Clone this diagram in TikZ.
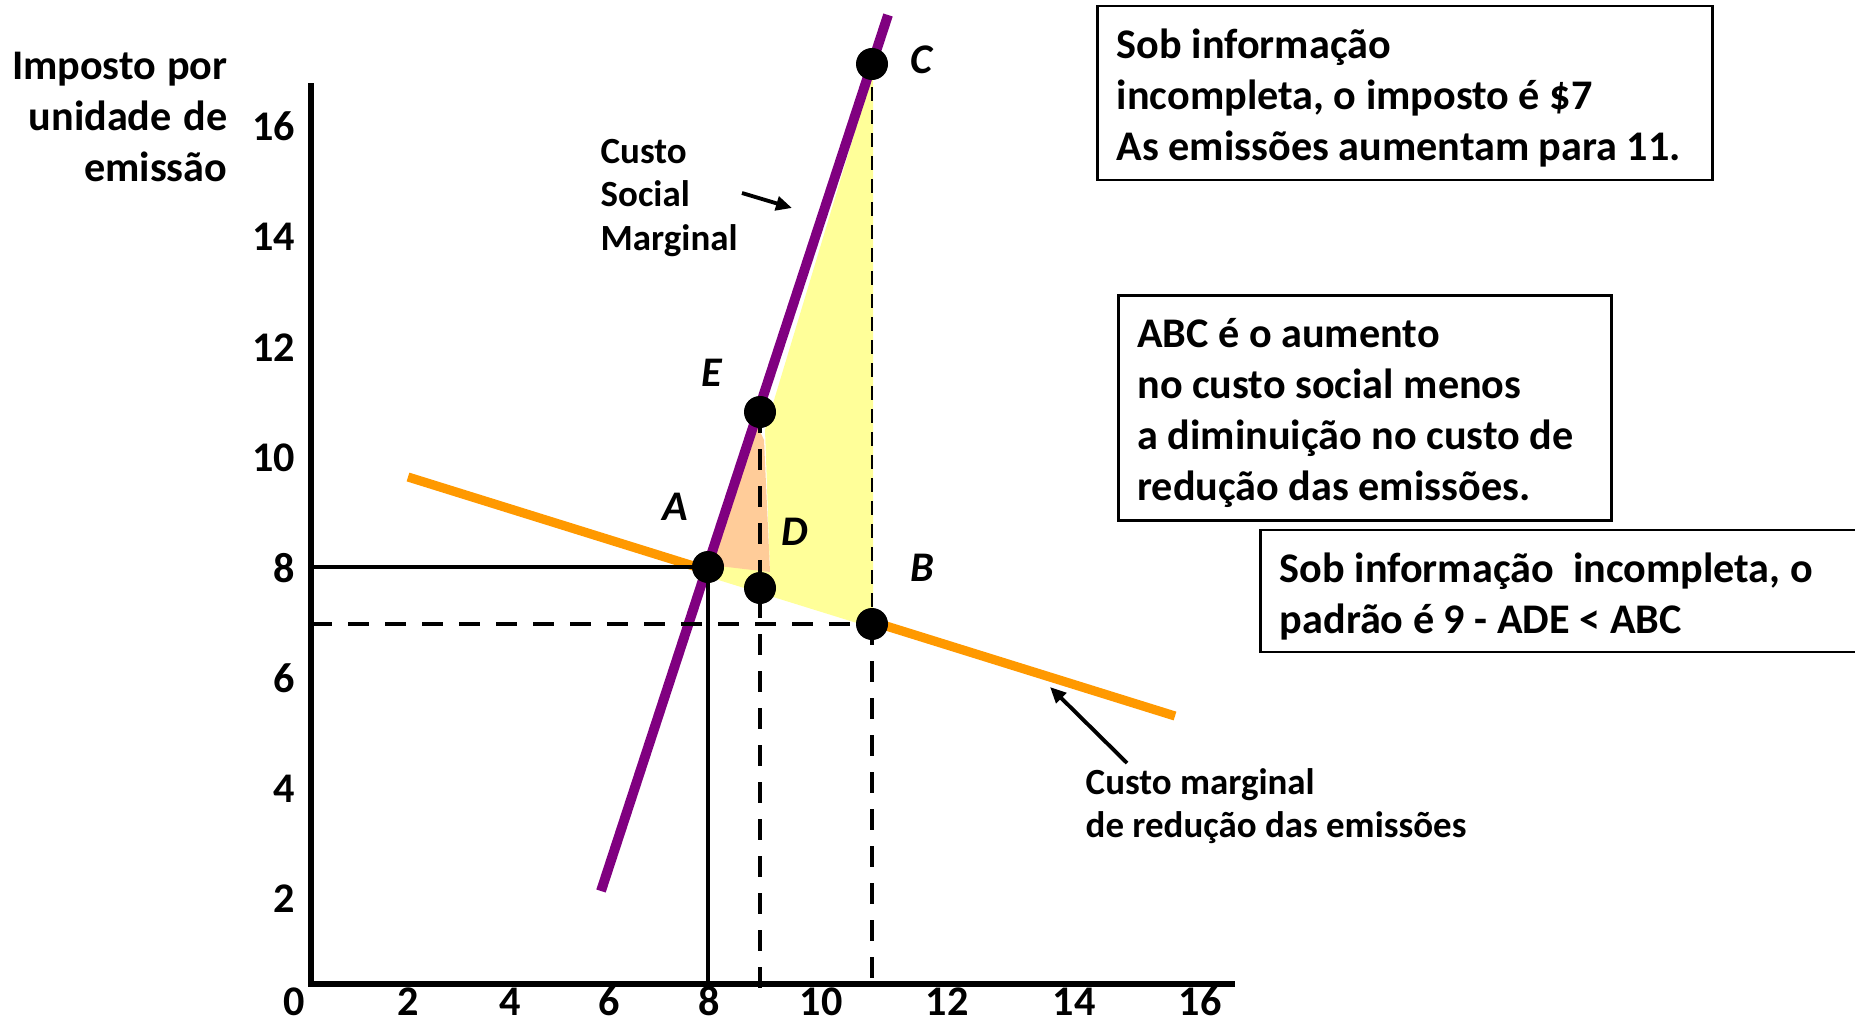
\documentclass[tikz,border=0pt]{standalone}
\usepackage{fontspec}
\setmainfont{Carlito}
\definecolor{mscpurple}{RGB}{128, 0, 128}
\definecolor{mcaorange}{RGB}{255, 153, 0}
\definecolor{gainyellow}{RGB}{255, 255, 153}
\definecolor{losspeach}{RGB}{255, 204, 153}
\usetikzlibrary{arrows.meta}
\newcommand{\tightspace}{\spaceskip=0.226em plus 0.1em minus 0.05em\xspaceskip=0.226em\relax}

\begin{document}
\begin{tikzpicture}[x=0.01cm, y=-0.01cm,
  lbl/.style={font=\fontsize{12}{14.5}\selectfont\bfseries, inner sep=0pt},
  pt/.style={font=\fontsize{12}{14.5}\selectfont\bfseries\itshape, inner sep=0pt},
  note/.style={font=\fontsize{10.5}{12.3}\selectfont\bfseries, inner sep=0pt, align=left,
               execute at begin node=\tightspace},
  infobox/.style={draw, line width=0.8pt, font=\fontsize{12}{14.5}\selectfont\bfseries,
                  align=left, inner xsep=0.19cm, inner ysep=0pt, text height=0.4cm,
                  execute at begin node=\tightspace},
  dot/.style={circle, fill=black, inner sep=0pt, minimum size=0.32cm},
  guide/.style={line width=1.2pt},
  guidedash/.style={line width=1.2pt, dash pattern=on 0.21cm off 0.16cm},
  thindash/.style={line width=0.7pt, dash pattern=on 0.14cm off 0.09cm},
  ptr/.style={-{Triangle[length=0.16cm, width=0.14cm]}, line width=1.1pt},
]
\useasboundingbox (0, 0) rectangle (1855, 1024);

% Points
\coordinate (A) at (708, 567);
\coordinate (B) at (872, 624);
\coordinate (C) at (872, 64);
\coordinate (D) at (760, 588);
\coordinate (E) at (760, 412);
\coordinate (origin) at (311, 984);
\coordinate (ytop) at (311, 83);
\coordinate (xend) at (1235, 984);
\coordinate (left8) at (311, 567);
\coordinate (left7) at (311, 624);
\coordinate (foot8) at (708, 984);
\coordinate (foot9) at (760, 988);
\coordinate (foot11) at (872, 994);

% Axes
\draw[line width=1.5pt] (ytop) -- (origin) -- (xend);

\node[lbl, anchor=east, align=right, text width=2.4cm, execute at begin node=\tightspace]
  (ylabel) at (228, 117) {Imposto por\\unidade de\\emissão};
\foreach \v in {2,4,...,16}
  \node[lbl, anchor=east] (y\v) at (296, {1009 - 55.15*\v}) {\v};
\foreach \v/\px in {0/294, 2/408, 4/510, 6/609, 8/709, 10/821, 12/947, 14/1074, 16/1200}
  \node[lbl, anchor=base] (x\v) at (\px, 1015) {\v};

% Marginal abatement cost
\coordinate (mca0) at (408, 477);
\coordinate (mca1) at (1175, 716);
\draw[mcaorange, line width=2.6pt] (mca0) -- (mca1);

% Areas ABC and ADE
\fill[gainyellow] (712, 578) -- (873, 628) -- (873, 72) -- (765, 430)
  -- (770, 572) -- (712, 562) -- cycle;
\fill[losspeach] (710, 565) -- (757, 425) -- (764, 440) -- (770, 572) -- cycle;

% Marginal social cost
\coordinate (msc0) at (601, 891);
\coordinate (msc1) at (888, 15);
\draw[mscpurple, line width=2.8pt] (msc0) -- (msc1);

% Guides
\draw[guide] (left8) -- (A) -- (foot8);
\draw[guidedash] (left7) -- (B);
\draw[guidedash] (E) -- (foot9);
\draw[thindash] (C) -- (B);
\draw[guidedash] (B) -- (foot11);

% Dots and letters
\foreach \p in {A, B, C, D, E}
  \node[dot] (dot\p) at (\p) {};
\node[pt] (lA) at (675, 507) {A};
\node[pt] (lB) at (922, 568) {B};
\node[pt] (lC) at (921, 60) {C};
\node[pt] (lD) at (795, 532) {D};
\node[pt] (lE) at (712, 373) {E};

% Curve labels
\node[note, anchor=west, text width=1.6cm] (msclabel) at (600, 198) {Custo\\Social\\Marginal};
\coordinate (msctail) at (742, 193);
\coordinate (msctip) at (792, 208);
\draw[ptr] (msctail) -- (msctip);

\node[note, anchor=west, text width=4.2cm] (mcalabel) at (1085, 806) {Custo marginal\\de redução das emissões};
\coordinate (mcatail) at (1127, 763);
\coordinate (mcatip) at (1050, 687);
\draw[ptr] (mcatail) -- (mcatip);

% Boxes
\node[infobox, minimum width=6.14cm, minimum height=1.74cm, text width=5.76cm] (taxbox) at (1405, 93)
{Sob informação\\incompleta, o imposto é \$7\\As emissões aumentam para 11.};
\node[infobox, minimum width=4.93cm, minimum height=2.25cm, text width=4.55cm] (abcbox) at (1365, 408)
{ABC é o aumento\\no custo social menos\\a diminuição no custo de\\redução das emissões.};
\node[infobox, minimum width=6.2cm, minimum height=1.22cm, text width=5.82cm] (stdbox) at (1571, 591)
{Sob informação\ \ incompleta, o\\padrão é 9 - ADE < ABC};
\end{tikzpicture}
\end{document}
